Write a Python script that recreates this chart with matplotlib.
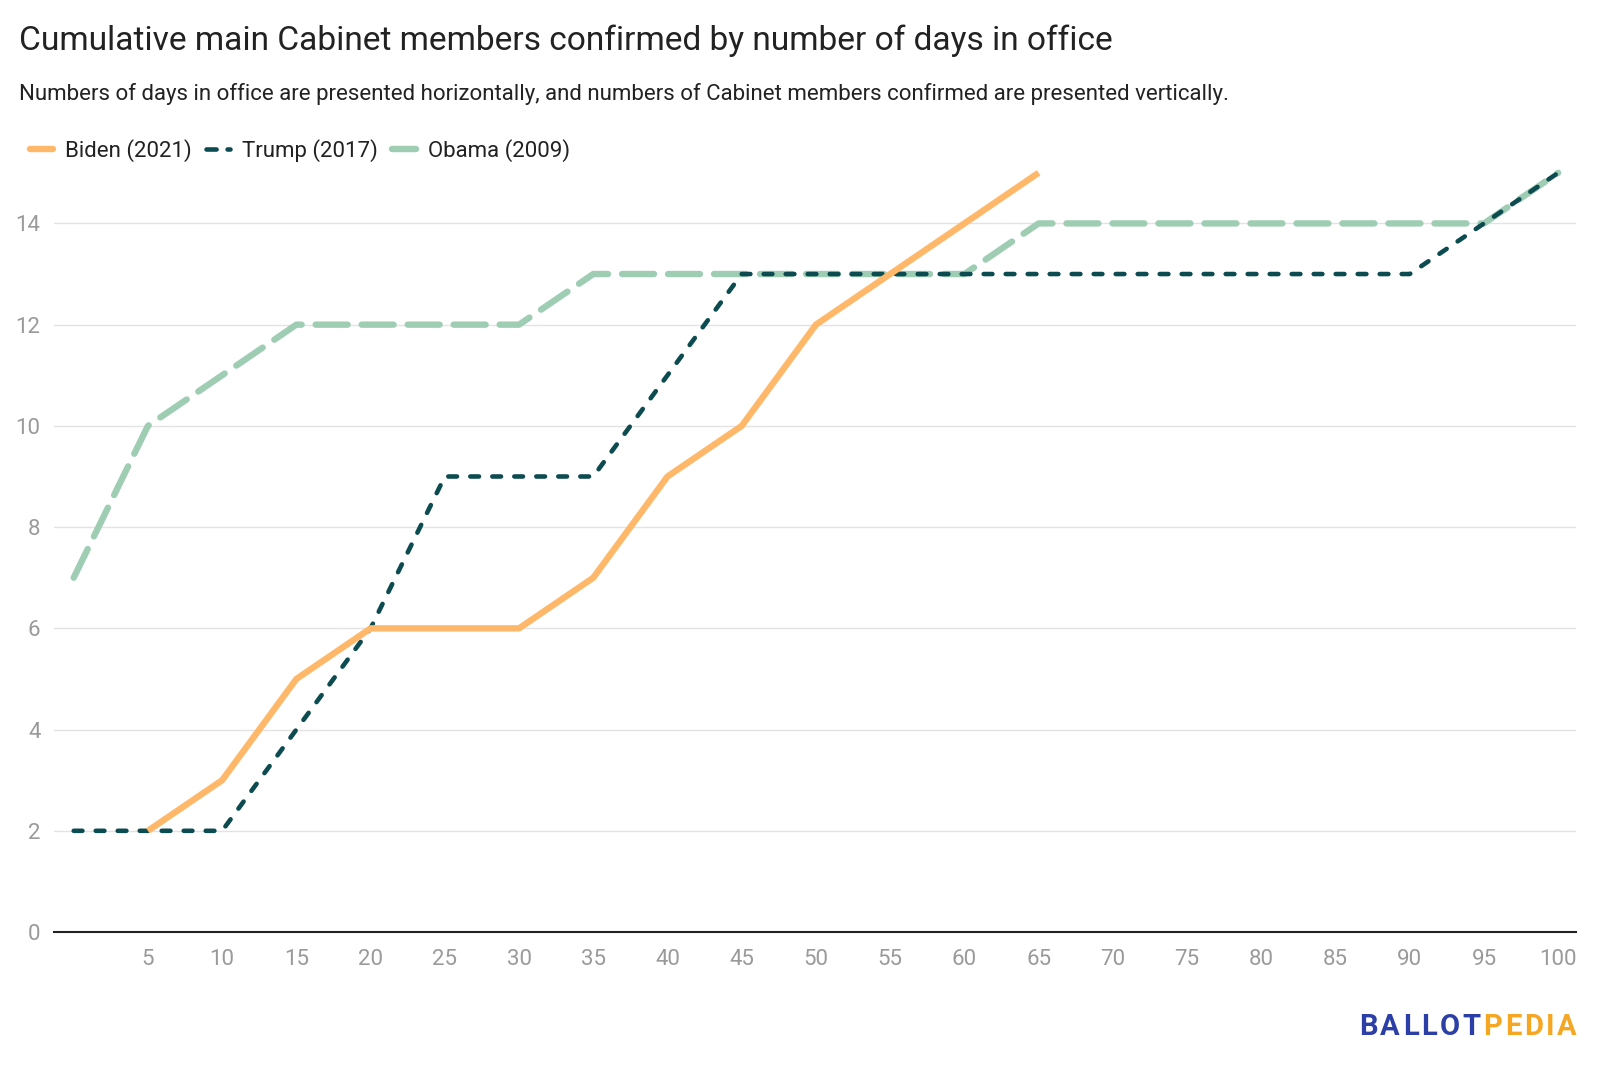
import matplotlib
matplotlib.use("Agg")
import matplotlib.pyplot as plt
from matplotlib.lines import Line2D

plt.rcParams['font.family'] = ['Roboto', 'DejaVu Sans']

# days in office (every 5 days)
days = [0, 5, 10, 15, 20, 25, 30, 35, 40, 45, 50, 55, 60, 65, 70, 75, 80, 85, 90, 95, 100]
biden_days = [5, 10, 15, 20, 25, 30, 35, 40, 45, 50, 55, 60, 65]
biden = [2, 3, 5, 6, 6, 6, 7, 9, 10, 12, 13, 14, 15]
trump = [2, 2, 2, 4, 6, 9, 9, 9, 11, 13, 13, 13, 13, 13, 13, 13, 13, 13, 13, 14, 15]
obama = [7, 10, 11, 12, 12, 12, 12, 13, 13, 13, 13, 13, 13, 14, 14, 14, 14, 14, 14, 14, 15]

x_ticks = [5, 10, 15, 20, 25, 30, 35, 40, 45, 50, 55, 60, 65, 70, 75, 80, 85, 90, 95, 100]
y_ticks = [0, 2, 4, 6, 8, 10, 12, 14]

c_biden = '#ffb869'
c_trump = '#0c4b4f'
c_obama = '#9ecdb4'

fig = plt.figure(figsize=(16, 10.8), dpi=100)
ax = fig.add_axes([0.034, 0.137, 0.951, 0.703])

ax.plot(days, obama, color=c_obama, lw=4.6, dashes=(5, 2.2), dash_capstyle='round', clip_on=False, zorder=2)
ax.plot(days, trump, color=c_trump, lw=3.3, dashes=(1.9, 2.9), dash_capstyle='round', clip_on=False, zorder=3)
ax.plot(biden_days, biden, color=c_biden, lw=4.6, solid_capstyle='butt', clip_on=False, zorder=4)

ax.set_xlim(-1.3, 101.2)
ax.set_ylim(0, 15)
ax.set_xticks(x_ticks)
ax.set_yticks(y_ticks)
ax.tick_params(axis='both', length=0, labelsize=16, labelcolor='#9a9a9a', pad=10)
ax.tick_params(axis='x', pad=12)
ax.grid(axis='y', color='#e3e3e3', lw=1)
ax.set_axisbelow(True)
for s in ['top', 'right', 'left']:
    ax.spines[s].set_visible(False)
ax.spines['bottom'].set_color('#222222')
ax.spines['bottom'].set_linewidth(1.5)

fig.text(0.012, 0.962, 'Cumulative main Cabinet members confirmed by number of days in office',
         fontsize=24.1, color='#222222', va='center')
fig.text(0.012, 0.913, 'Numbers of days in office are presented horizontally, and numbers of Cabinet members confirmed are presented vertically.',
         fontsize=16, color='#222222', va='center')

handles = [
    Line2D([], [], color=c_biden, lw=4.6, solid_capstyle='round'),
    Line2D([], [], color=c_trump, lw=3.3, dashes=(2.2, 2.4), dash_capstyle='round'),
    Line2D([], [], color=c_obama, lw=4.6, solid_capstyle='round'),
]
fig.legend(handles, ['Biden (2021)', 'Trump (2017)', 'Obama (2009)'],
           loc='center left', bbox_to_anchor=(0.006, 0.861), ncol=3, frameon=False,
           fontsize=16, handlelength=1.05, handletextpad=0.55, columnspacing=0.65,
           labelcolor='#222222')

# logo, letter by letter to get the wide spacing
renderer = fig.canvas.get_renderer()
logo = [('BALLOT', '#2b3fa6'), ('PEDIA', '#f5a623')]
x_px = 1359
for word, col in logo:
    for ch in word:
        t = fig.text(x_px / 1600, 0.049, ch, fontsize=21, fontweight='semibold',
                     color=col, va='center', ha='left')
        x_px += t.get_window_extent(renderer).width + 2.7

fig.savefig('out.png', dpi=100, facecolor='white')
